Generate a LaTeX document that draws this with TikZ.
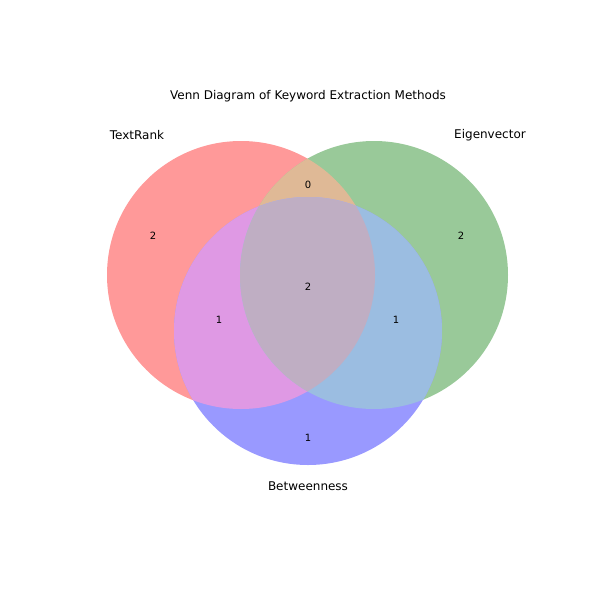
\documentclass[tikz,border=0pt]{standalone}
\usepackage{fontspec}
\setmainfont{DejaVu Sans}
\definecolor{tr}{RGB}{255,153,153}
\definecolor{ev}{RGB}{153,201,153}
\definecolor{bw}{RGB}{153,153,255}
\definecolor{trev}{RGB}{223,185,150}
\definecolor{trbw}{RGB}{223,153,228}
\definecolor{evbw}{RGB}{155,189,225}
\definecolor{all}{RGB}{191,174,195}
\tikzset{count/.style={font=\fontsize{10}{12}\selectfont},
  setname/.style={font=\fontsize{12}{14}\selectfont}}
\begin{document}
\begin{tikzpicture}[x=1pt,y=-1pt]
\useasboundingbox (0,0) rectangle (600,600);

% Set centres
\coordinate (T) at (241,275);
\coordinate (E) at (374,275);
\coordinate (B) at (308,331);
\def\r{134}

% Single sets
\fill[tr] (T) circle (\r);
\fill[ev] (E) circle (\r);
\fill[bw] (B) circle (\r);

% Pairwise overlaps
\begin{scope}\clip (T) circle (\r); \fill[trev] (E) circle (\r);\end{scope}
\begin{scope}\clip (T) circle (\r); \fill[trbw] (B) circle (\r);\end{scope}
\begin{scope}\clip (E) circle (\r); \fill[evbw] (B) circle (\r);\end{scope}

% Triple overlap
\begin{scope}
\clip (T) circle (\r); \clip (E) circle (\r); \fill[all] (B) circle (\r);
\end{scope}

% Titles and counts
\node[setname] (title) at (308,96) {Venn Diagram of Keyword Extraction Methods};
\node[setname] (textrank) at (137,135) {TextRank};
\node[setname] (eigen) at (490,135) {Eigenvector};
\node[setname] (betw) at (308,486) {Betweenness};
\node[count] (n110) at (308,185) {0};
\node[count] (n100) at (153,236) {2};
\node[count] (n010) at (461,236) {2};
\node[count] (n111) at (308,287) {2};
\node[count] (n101) at (219,320) {1};
\node[count] (n011) at (396,320) {1};
\node[count] (n001) at (308,438) {1};

\end{tikzpicture}
\end{document}
